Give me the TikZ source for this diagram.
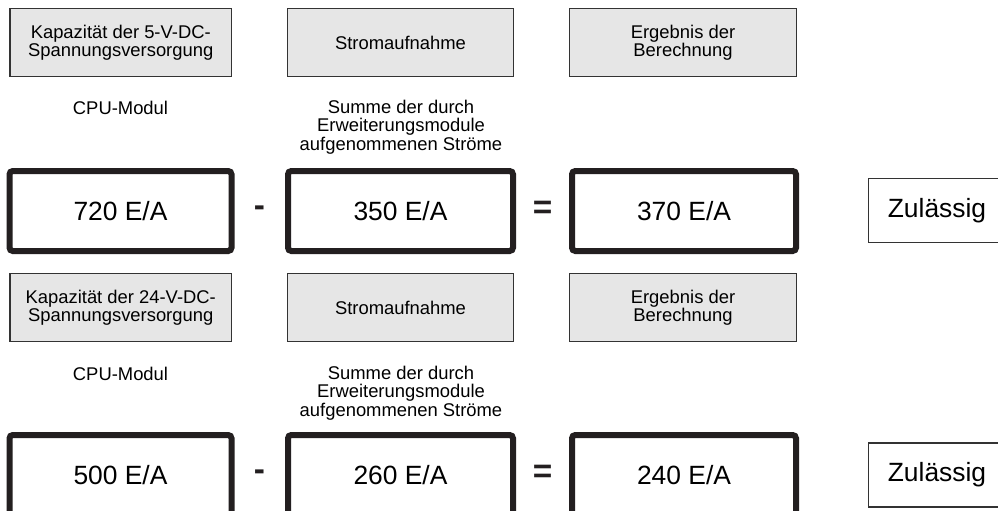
\documentclass[tikz,border=0pt]{standalone}
\usepackage{fontspec}
\setmainfont{Liberation Sans}
\definecolor{headfill}{HTML}{E6E6E6}
\definecolor{headline}{HTML}{333333}
\definecolor{thickline}{HTML}{231F20}
\begin{document}
\begin{tikzpicture}[x=0.75pt,y=-0.75pt,
  head/.style={draw=headline, fill=headfill, line width=1.1pt, align=center,
    inner sep=0pt, minimum height=51pt, font=\fontsize{13.8}{12}\selectfont},
  val/.style={draw=thickline, line width=4.5pt, rounded corners=2.5pt,
    minimum height=60pt, inner sep=0pt, font=\fontsize{19.8}{22}\selectfont},
  note/.style={align=center, inner sep=0pt, font=\fontsize{13.8}{13.9}\selectfont},
  op/.style={inner sep=0pt, text=thickline, font=\fontsize{25}{25}\selectfont\bfseries},
  verdict/.style={draw=headline, line width=1.1pt, minimum width=103pt,
    minimum height=48pt, inner sep=0pt, font=\fontsize{19.8}{22}\selectfont}]
\fill[white] (0,0) rectangle (998,510);
\path[use as bounding box] (0,0) rectangle (998,510);

% ---- Row 1 ----
\node[head, minimum width=166pt] (h1a) at (120.75,42.5) {Kapazität der 5-V-DC-\\Spannungsversorgung};
\node[head, minimum width=169.5pt] (h1b) at (400.5,42.5) {Stromaufnahme};
\node[head, minimum width=170pt] (h1c) at (683,42.5) {Ergebnis der\\Berechnung};

\node[note] (n1a) at (120.5,108) {CPU-Modul};
\node[note] (n1b) at (401,127) {Summe der durch\\Erweiterungsmodule\\aufgenommenen Ströme};

\node[val, minimum width=166.5pt] (v1a) at (120.5,211) {720 E/A};
\node[val, minimum width=168.75pt] (v1b) at (400.5,211) {350 E/A};
\node[val, minimum width=168pt] (v1c) at (684,211) {370 E/A};
\node[op] (m1) at (259.5,211) {-};
\node[op] (e1) at (542.5,210) {=};
\node[verdict] (z1) at (937,210.5) {Zulässig};

% ---- Row 2 ----
\node[head, minimum width=166pt] (h2a) at (120.75,307.5) {Kapazität der 24-V-DC-\\Spannungsversorgung};
\node[head, minimum width=169.5pt] (h2b) at (400.5,307.5) {Stromaufnahme};
\node[head, minimum width=170pt] (h2c) at (683,307.5) {Ergebnis der\\Berechnung};

\node[note] (n2a) at (120.5,374) {CPU-Modul};
\node[note] (n2b) at (401,393) {Summe der durch\\Erweiterungsmodule\\aufgenommenen Ströme};

\node[val, minimum width=166.5pt] (v2a) at (120.5,475) {500 E/A};
\node[val, minimum width=168.75pt] (v2b) at (400.5,475) {260 E/A};
\node[val, minimum width=168pt] (v2c) at (684,475) {240 E/A};
\node[op] (m2) at (259.5,475) {-};
\node[op] (e2) at (542.5,474) {=};
\node[verdict] (z2) at (937,475) {Zulässig};
\end{tikzpicture}
\end{document}
